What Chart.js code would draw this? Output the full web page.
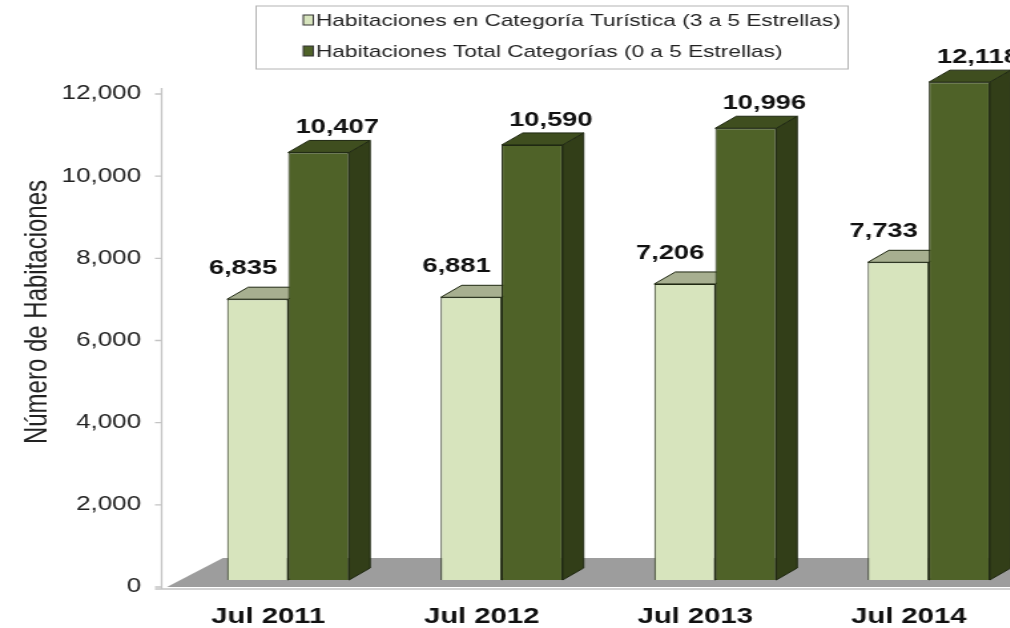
<!DOCTYPE html>
<html>
<head>
<meta charset="utf-8">
<script src="https://cdn.jsdelivr.net/npm/chart.js@4.4.1/dist/chart.umd.min.js"></script>
<style>
  html, body { margin: 0; padding: 0; background: #fff; }
  #wrap { width: 1010px; height: 628px; overflow: hidden; }
</style>
</head>
<body>
<div id="wrap">
  <!-- drawn narrow, then stretched sideways like the original picture -->
  <canvas id="chart" width="790" height="628" style="width:1050.7px;height:628px"></canvas>
</div>
<script>
const categories = ["Jul 2011", "Jul 2012", "Jul 2013", "Jul 2014"];
const turisticaValues = [6835, 6881, 7206, 7733];
const totalValues = [10407, 10590, 10996, 12118];
const yTicks = [0, 2000, 4000, 6000, 8000, 10000, 12000];
const seriesNames = [
    "Habitaciones en Categoría Turística (3 a 5 Estrellas)",
    "Habitaciones Total Categorías (0 a 5 Estrellas)",
];
const yTitle = "Número de Habitaciones";

Chart.defaults.font.family = "'Liberation Sans', Arial, sans-serif";

const FONT = "'Liberation Sans', Arial, sans-serif";
const AXIS_X = 121.5;     // vertical axis line (canvas units)
const DEPTH_X = 15.8;     // 3d depth of the bars
const DEPTH_Y = -12;
const edgeColor = "#1f2812";

// front / top / side faces for each series
const faces = [
    { front: "#d7e4bd", top: "#a7af90", side: "#9aa283" },
    { front: "#4f6228", top: "#3f4e1f", side: "#323e18" },
];
// where the value labels sit relative to the bar top
const labelShift = [
    { dx: -11, dy: -31 },
    { dx: 14, dy: -25 },
];

function fmt(v) {
    return v.toLocaleString("en-US");
}

// floor, axis and the side/top faces of the bars
const bars3d = {
    id: "bars3d",
    beforeDatasetsDraw(chart) {
        const { ctx, chartArea: a, scales: { y } } = chart;
        ctx.save();

        // gray floor
        ctx.fillStyle = "#9d9d9d";
        ctx.beginPath();
        ctx.moveTo(AXIS_X + 4, a.bottom + 7);
        ctx.lineTo(AXIS_X + 46, a.bottom - 22);
        ctx.lineTo(chart.width, a.bottom - 22);
        ctx.lineTo(chart.width, a.bottom + 7);
        ctx.closePath();
        ctx.fill();

        // axis lines + tick marks
        ctx.strokeStyle = "#c4c4c4";
        ctx.lineWidth = 1.3;
        ctx.beginPath();
        ctx.moveTo(AXIS_X, y.getPixelForValue(yTicks[yTicks.length - 1]) + 1);
        ctx.lineTo(AXIS_X, a.bottom + 9);
        ctx.moveTo(AXIS_X - 5, a.bottom + 9);
        ctx.lineTo(chart.width, a.bottom + 9);
        yTicks.forEach(v => {
            const py = y.getPixelForValue(v) + 7;
            ctx.moveTo(AXIS_X - 5, py);
            ctx.lineTo(AXIS_X, py);
        });
        ctx.stroke();

        ctx.strokeStyle = edgeColor;
        ctx.lineWidth = 1;
        ctx.lineJoin = "round";
        chart.data.datasets.forEach((ds, i) => {
            const meta = chart.getDatasetMeta(i);
            meta.data.forEach(bar => {
                const { x, y: top, base, width } = bar.getProps(["x", "y", "base", "width"], true);
                const l = x - width / 2;
                const r = x + width / 2;

                // side face
                ctx.fillStyle = faces[i].side;
                ctx.beginPath();
                ctx.moveTo(r, top);
                ctx.lineTo(r + DEPTH_X, top + DEPTH_Y);
                ctx.lineTo(r + DEPTH_X, base + DEPTH_Y);
                ctx.lineTo(r, base);
                ctx.closePath();
                ctx.fill();
                ctx.stroke();

                // top face
                ctx.fillStyle = faces[i].top;
                ctx.beginPath();
                ctx.moveTo(l, top);
                ctx.lineTo(l + DEPTH_X, top + DEPTH_Y);
                ctx.lineTo(r + DEPTH_X, top + DEPTH_Y);
                ctx.lineTo(r, top);
                ctx.closePath();
                ctx.fill();
                ctx.stroke();
            });
        });
        ctx.restore();
    },
    afterDatasetsDraw(chart) {
        const { ctx } = chart;
        ctx.save();
        ctx.font = "bold 20.5px " + FONT;
        ctx.fillStyle = "#111";
        ctx.textAlign = "center";
        ctx.textBaseline = "middle";
        chart.data.datasets.forEach((ds, i) => {
            chart.getDatasetMeta(i).data.forEach((bar, j) => {
                ctx.fillText(fmt(ds.data[j]), bar.x + labelShift[i].dx, bar.y + labelShift[i].dy);
            });
        });
        ctx.restore();
    },
    afterDraw(chart) {
        const { ctx } = chart;
        ctx.save();

        // y title
        ctx.translate(28, 312);
        ctx.rotate(-Math.PI / 2);
        ctx.font = "24px " + FONT;
        ctx.fillStyle = "#222";
        ctx.textAlign = "center";
        ctx.textBaseline = "middle";
        ctx.fillText(yTitle, 0, 0);
        ctx.setTransform(1, 0, 0, 1, 0, 0);

        // boxed legend
        ctx.fillStyle = "#fff";
        ctx.strokeStyle = "#b4b4b4";
        ctx.lineWidth = 1;
        ctx.fillRect(192.5, 6, 445, 63);
        ctx.strokeRect(192.5, 6, 445, 63);
        ctx.font = "17px " + FONT;
        ctx.textAlign = "left";
        ctx.textBaseline = "middle";
        chart.data.datasets.forEach((ds, i) => {
            const rowY = 20 + i * 31;
            ctx.fillStyle = ds.backgroundColor;
            ctx.fillRect(228, rowY - 5, 7.5, 10);
            ctx.strokeStyle = "#333";
            ctx.strokeRect(228, rowY - 5, 7.5, 10);
            ctx.fillStyle = "#222";
            ctx.fillText(ds.label, 237.5, rowY + 1);
        });
        ctx.restore();
    },
};

new Chart(document.getElementById("chart"), {
    type: "bar",
    data: {
        labels: categories,
        datasets: [
            {
                label: seriesNames[0],
                data: turisticaValues,
                backgroundColor: faces[0].front,
                borderColor: edgeColor,
                borderWidth: 1,
                clip: false,
            },
            {
                label: seriesNames[1],
                data: totalValues,
                backgroundColor: faces[1].front,
                borderColor: edgeColor,
                borderWidth: 1,
                clip: false,
            },
        ],
    },
    options: {
        responsive: false,
        animation: false,
        layout: {
            padding: { top: 87, right: 11.6, bottom: 0, left: 0 },
        },
        datasets: {
            bar: {
                categoryPercentage: 0.571,
                barPercentage: 1,
            },
        },
        scales: {
            x: {
                grid: { display: false, drawTicks: false },
                border: { display: false },
                ticks: {
                    color: "#111",
                    font: { size: 22, weight: "bold" },
                    padding: 24,
                    labelOffset: -15,
                    maxRotation: 0,
                },
                afterFit: s => { s.height = 48; },
            },
            y: {
                min: yTicks[0],
                max: yTicks[yTicks.length - 1],
                grid: { display: false, drawTicks: false },
                border: { display: false },
                ticks: {
                    stepSize: yTicks[1] - yTicks[0],
                    color: "#222",
                    font: { size: 19.5 },
                    padding: 30.3,
                    labelOffset: 7,
                    callback: v => fmt(v),
                },
                afterFit: s => { s.width = 136.3; },
            },
        },
        plugins: {
            legend: { display: false },
            tooltip: { enabled: false },
        },
    },
    plugins: [bars3d],
});
</script>
</body>
</html>
